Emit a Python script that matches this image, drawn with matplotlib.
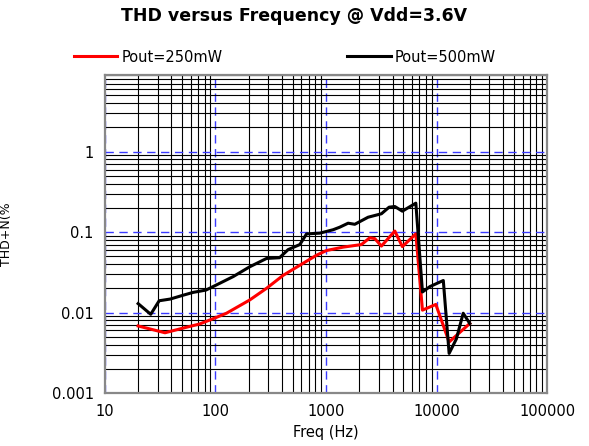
import matplotlib
matplotlib.use("Agg")
import matplotlib.pyplot as plt
from matplotlib.ticker import LogLocator, FixedLocator, NullFormatter

plt.rcParams['font.family'] = ['DejaVu Sans']

# Data (Hz, THD+N %)
freq_250 = [20, 35, 51, 72, 100, 126, 204, 290, 410, 580, 820, 1010, 1430, 2090,
            2490, 2760, 3170, 4190, 4900, 6490, 7450, 9840, 12980, 19950]
thd_250 = [0.0068, 0.0056, 0.0064, 0.0072, 0.0086, 0.0098, 0.0143, 0.020, 0.029,
           0.0387, 0.0515, 0.059, 0.065, 0.070, 0.085, 0.083, 0.067, 0.103, 0.066,
           0.095, 0.0107, 0.0126, 0.0043, 0.0073]

freq_500 = [20, 26, 31, 39, 51, 63, 82, 102, 145, 204, 290, 380, 454, 580, 667, 880,
            1160, 1330, 1585, 1820, 2400, 3170, 3720, 4190, 4900, 6490, 7450, 8700,
            11500, 12980, 15100, 17400, 19950]
thd_500 = [0.0129, 0.0095, 0.014, 0.0147, 0.0164, 0.0178, 0.019, 0.022, 0.028, 0.037,
           0.047, 0.048, 0.0605, 0.070, 0.095, 0.097, 0.107, 0.115, 0.129, 0.125,
           0.153, 0.169, 0.204, 0.208, 0.182, 0.229, 0.018, 0.021, 0.025, 0.0031,
           0.0047, 0.0098, 0.0073]

x_ticks = [10, 100, 1000, 10000, 100000]
x_labels = ['10', '100', '1000', '10000', '100000']
y_ticks = [0.001, 0.01, 0.1, 1]
y_labels = ['0.001', '0.01', '0.1', '1']

fig = plt.figure(figsize=(5.89, 4.46), dpi=100)
ax = fig.add_axes([0.178, 0.119, 0.751, 0.713])

ax.plot(freq_250, thd_250, color='#ff0000', lw=2.2, label='Pout=250mW', zorder=5)
ax.plot(freq_500, thd_500, color='black', lw=2.2, label='Pout=500mW', zorder=6)

ax.set_xscale('log')
ax.set_yscale('log')
ax.set_xlim(10, 100000)
ax.set_ylim(0.001, 9)

ax.xaxis.set_major_locator(FixedLocator(x_ticks))
ax.set_xticklabels(x_labels)
ax.yaxis.set_major_locator(FixedLocator(y_ticks))
ax.set_yticklabels(y_labels)
ax.xaxis.set_minor_locator(LogLocator(base=10, subs=range(2, 10), numticks=20))
ax.yaxis.set_minor_locator(LogLocator(base=10, subs=range(2, 10), numticks=20))
ax.xaxis.set_minor_formatter(NullFormatter())
ax.yaxis.set_minor_formatter(NullFormatter())

ax.grid(which='minor', color='black', lw=0.8)
ax.grid(which='major', color='#3a3aff', lw=1.0, ls=(0, (6, 4)))
ax.set_axisbelow(True)
ax.tick_params(which='both', length=0, labelsize=10.5, pad=8)

for s in ax.spines.values():
    s.set_color('#888888')
    s.set_linewidth(1.6)

ax.set_xlabel('Freq (Hz)', fontsize=10.5, labelpad=4)
ax.set_ylabel('THD+N(%', fontsize=9, labelpad=28)
fig.suptitle('THD versus Frequency @ Vdd=3.6V', fontsize=12.5, fontweight='bold',
             x=0.5, y=0.985)

fig.legend(loc='center left', bbox_to_anchor=(0.115, 0.872), ncol=2, frameon=False,
           fontsize=10.5, handlelength=3.0, handletextpad=0.3, columnspacing=8.5,
           borderaxespad=0)

fig.savefig('out.png', dpi=100)
